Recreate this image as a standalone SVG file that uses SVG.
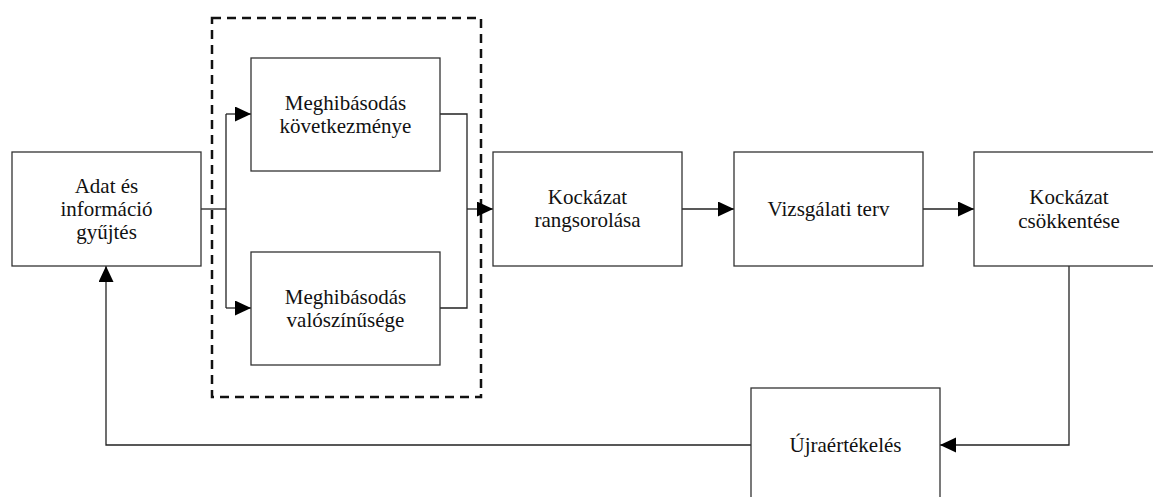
<svg xmlns="http://www.w3.org/2000/svg" width="1153" height="497" viewBox="0 0 1153 497">
<style>
.box{fill:#fff;stroke:#333;stroke-width:1.3}
.lbl{font-size:21px;fill:#111;text-anchor:middle}
.con{fill:none;stroke:#222;stroke-width:1.3}
.grp{fill:none;stroke:#111;stroke-width:2.5;stroke-dasharray:9 6}
</style>
<defs>
<marker id="ah" markerUnits="userSpaceOnUse" markerWidth="16" markerHeight="16" refX="16" refY="7.5" orient="auto">
<path d="M0,0 L16,7.5 L0,15 z" fill="#000"/>
</marker>
</defs>
<rect width="1153" height="497" fill="#fff"/>
<g id="group-frame"><rect class="grp" x="212" y="18" width="269" height="379"/></g>
<g id="connectors">
<path class="con" d="M201,209 H226"/>
<path class="con" d="M226,114 V308"/>
<path class="con" d="M226,114 H251" marker-end="url(#ah)"/>
<path class="con" d="M226,308 H251" marker-end="url(#ah)"/>
<path class="con" d="M440,114 H467 V308 H440"/>
<path class="con" d="M467,209 H493" marker-end="url(#ah)"/>
<path class="con" d="M682,209 H734" marker-end="url(#ah)"/>
<path class="con" d="M923,209 H974" marker-end="url(#ah)"/>
<path class="con" d="M1069,266 V445 H940" marker-end="url(#ah)"/>
<path class="con" d="M751,445 H106 V266" marker-end="url(#ah)"/>
</g>
<g font-family="Liberation Serif, DejaVu Serif, serif">
<g id="adat">
<rect class="box" x="12" y="152" width="189" height="114"/>
<text class="lbl" x="106.5" y="193">Adat és</text>
<text class="lbl" x="106.5" y="216">információ</text>
<text class="lbl" x="106.5" y="239">gyűjtés</text>
</g>
<g id="kovetkezmeny">
<rect class="box" x="251" y="58" width="189" height="113"/>
<text class="lbl" x="345.5" y="110">Meghibásodás</text>
<text class="lbl" x="345.5" y="133">következménye</text>
</g>
<g id="valoszinuseg">
<rect class="box" x="251" y="252" width="189" height="113"/>
<text class="lbl" x="345.5" y="304">Meghibásodás</text>
<text class="lbl" x="345.5" y="327">valószínűsége</text>
</g>
<g id="rangsorolas">
<rect class="box" x="493" y="152" width="189" height="114"/>
<text class="lbl" x="587.5" y="204">Kockázat</text>
<text class="lbl" x="587.5" y="227">rangsorolása</text>
</g>
<g id="vizsgalati">
<rect class="box" x="734" y="152" width="189" height="114"/>
<text class="lbl" x="828.5" y="216">Vizsgálati terv</text>
</g>
<g id="csokkentes">
<rect class="box" x="974" y="152" width="190" height="114"/>
<text class="lbl" x="1069" y="204">Kockázat</text>
<text class="lbl" x="1069" y="228">csökkentése</text>
</g>
<g id="ujraertekeles">
<rect class="box" x="751" y="388" width="189" height="114"/>
<text class="lbl" x="845.5" y="452">Újraértékelés</text>
</g>
</g>
</svg>
